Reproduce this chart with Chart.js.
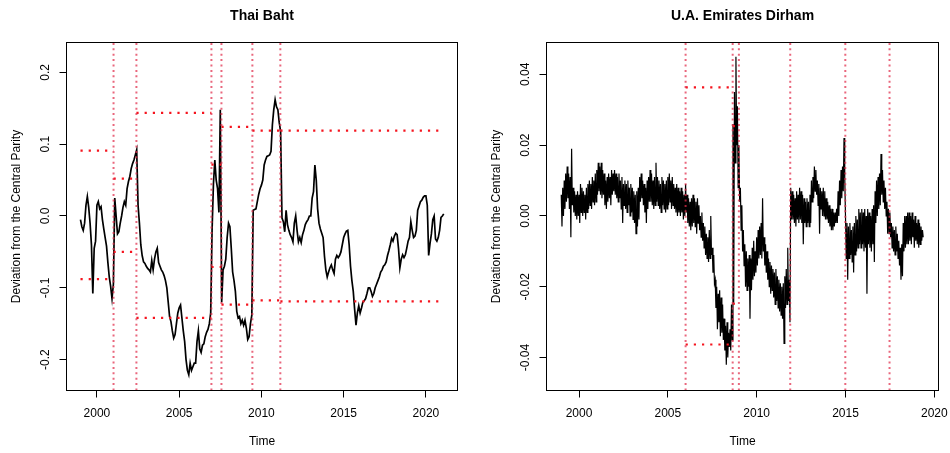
<!DOCTYPE html>
<html>
<head>
<meta charset="utf-8">
<script src="https://cdn.jsdelivr.net/npm/chart.js@4.4.1/dist/chart.umd.min.js"></script>
<style>
  html, body { margin: 0; padding: 0; background: #fff; }
  #wrap { display: flex; width: 950px; height: 453px; }
  .panel { width: 475px; height: 453px; }
  canvas { display: block; }
</style>
</head>
<body>
<div id="wrap">
  <div class="panel"><canvas id="thbChart" width="475" height="453"></canvas></div>
  <div class="panel"><canvas id="aedChart" width="475" height="453"></canvas></div>
</div>
<script>
/* ---- Data ---- */
const yearTicks = [2000, 2005, 2010, 2015, 2020];

// Thai Baht, monthly from Jan 1999
const thbStart = 1999;
const thbStep = 1 / 12;
const thbValues = [
  -0.005, -0.015, -0.020, -0.010, 0.015, 0.027, 0.012, -0.010, -0.040, -0.108, -0.045, -0.035,
  0.015, 0.020, 0.010, 0.013, -0.005, -0.018, -0.030, -0.042, -0.065, -0.085, -0.098, -0.115,
  -0.095, 0.025, 0.000, -0.025, -0.022, -0.010, 0.000, 0.012, 0.020, 0.015, 0.038, 0.048,
  0.055, 0.066, 0.073, 0.078, 0.085, 0.092, 0.015, -0.010, -0.040, -0.055, -0.064, -0.066,
  -0.070, -0.073, -0.075, -0.078, -0.062, -0.075, -0.060, -0.050, -0.045, -0.065, -0.070, -0.075,
  -0.078, -0.083, -0.090, -0.100, -0.120, -0.140, -0.147, -0.160, -0.170, -0.165, -0.150, -0.135,
  -0.128, -0.124, -0.142, -0.160, -0.175, -0.200, -0.215, -0.221, -0.205, -0.215, -0.210, -0.205,
  -0.205, -0.175, -0.160, -0.185, -0.190, -0.180, -0.178, -0.168, -0.162, -0.158, -0.150, -0.135,
  -0.020, 0.045, 0.078, 0.050, 0.038, 0.005, 0.148, -0.120, -0.075, -0.070, -0.060, -0.030,
  -0.010, -0.015, -0.045, -0.078, -0.090, -0.105, -0.133, -0.142, -0.140, -0.150, -0.145, -0.152,
  -0.145, -0.156, -0.172, -0.168, -0.150, -0.138, 0.008, 0.009, 0.010, 0.020, 0.030, 0.038,
  0.043, 0.050, 0.071, 0.078, 0.083, 0.084, 0.085, 0.090, 0.127, 0.148, 0.162, 0.152,
  0.148, 0.130, 0.118, -0.003, -0.008, -0.022, 0.008, -0.012, -0.020, -0.026, -0.030, -0.036,
  -0.010, 0.000, -0.020, -0.036, -0.030, -0.037, -0.026, -0.020, -0.012, -0.008, -0.005, 0.000,
  0.000, 0.025, 0.034, 0.071, 0.050, 0.010, -0.010, -0.018, -0.024, -0.030, -0.056, -0.075,
  -0.085, -0.078, -0.072, -0.068, -0.075, -0.080, -0.060, -0.055, -0.058, -0.055, -0.050, -0.040,
  -0.030, -0.025, -0.021, -0.020, -0.040, -0.070, -0.090, -0.105, -0.130, -0.152, -0.135, -0.125,
  -0.135, -0.128, -0.120, -0.118, -0.115, -0.108, -0.100, -0.100, -0.105, -0.112, -0.108, -0.100,
  -0.095, -0.090, -0.085, -0.078, -0.075, -0.070, -0.068, -0.064, -0.055, -0.048, -0.040, -0.031,
  -0.035, -0.028, -0.024, -0.026, -0.045, -0.072, -0.060, -0.054, -0.058, -0.054, -0.045, -0.035,
  -0.030, -0.008, -0.020, -0.030, -0.028, -0.020, 0.008, 0.014, 0.020, 0.022, 0.026, 0.028,
  0.028, 0.015, -0.055, -0.038, -0.025, -0.005, 0.000, -0.032, -0.035, -0.030, -0.020, -0.002,
  0.000, 0.003
];
const thbBreaks = [2001.01, 2002.40, 2006.96, 2007.57, 2009.45, 2011.15];
const thbBandStart = [1999.00, 2001.01, 2002.40, 2006.96, 2007.57, 2009.45, 2011.15];
const thbBandEnd   = [2001.01, 2002.40, 2006.96, 2007.57, 2009.45, 2011.15, 2021.05];
const thbBandUpper = [0.091, 0.052, 0.1435, 0.0715, 0.124, 0.119, 0.119];
const thbBandLower = [-0.088, -0.050, -0.142, -0.071, -0.1235, -0.1175, -0.119];
const thbYTicks  = [-0.2, -0.1, 0, 0.1, 0.2];
const thbYLabels = ["-0.2", "-0.1", "0.0", "0.1", "0.2"];

// U.A. Emirates Dirham, half-monthly from Jan 1999 (high / low of each month in turn)
const aedStart = 1999;
const aedStep = 1 / 24;
const aedValues = [
  0.006,-0.003, 0.008,0.000, 0.010,0.002, 0.012,0.004, 0.014,0.005, 0.012,0.002, 0.011,-0.006, 0.019,0.003, 0.008,0.001, 0.007,0.000, 0.006,-0.001, 0.007,0.000,
  0.006,-0.002, 0.009,0.001, 0.008,0.000, 0.007,0.001, 0.006,-0.001, 0.008,0.001, 0.009,0.002, 0.010,0.003, 0.009,0.002, 0.011,0.004, 0.010,0.003, 0.012,0.004,
  0.013,0.006, 0.015,0.007, 0.014,0.006, 0.015,0.005, 0.013,0.006, 0.012,0.003, 0.010,0.002, 0.011,0.004, 0.012,0.005, 0.011,0.003, 0.013,0.006, 0.012,0.007,
  0.013,0.006, 0.012,0.005, 0.011,0.004, 0.012,0.005, 0.010,0.002, 0.011,-0.002, 0.009,0.003, 0.010,0.002, 0.009,0.001, 0.010,0.003, 0.008,0.000, 0.009,0.001,
  0.008,-0.001, 0.007,-0.002, 0.006,-0.005, 0.007,-0.003, 0.008,-0.001, 0.011,0.004, 0.012,0.005, 0.010,0.003, 0.009,0.001, 0.008,-0.002, 0.010,0.002, 0.011,0.004,
  0.013,0.004, 0.012,0.003, 0.010,0.002, 0.011,0.003, 0.015,0.004, 0.011,0.003, 0.010,0.002, 0.009,0.001, 0.011,0.003, 0.010,0.002, 0.009,0.001, 0.010,0.002,
  0.011,0.003, 0.012,0.004, 0.010,0.002, 0.011,0.003, 0.009,0.002, 0.008,0.001, 0.009,0.000, 0.008,0.001, 0.007,0.000, 0.008,0.001, 0.007,-0.001, 0.006,0.000,
  0.009,0.001, 0.006,-0.002, 0.005,-0.003, 0.004,-0.004, 0.005,-0.003, 0.006,-0.002, 0.005,-0.003, 0.004,-0.005, 0.005,-0.002, 0.003,-0.004, 0.000,-0.006, 0.001,-0.007,
  -0.002,-0.009, -0.003,-0.011, -0.005,-0.012, -0.006,-0.013, -0.004,-0.012, 0.000,-0.011, -0.009,-0.016, -0.011,-0.019, -0.018,-0.026, -0.020,-0.032, -0.022,-0.030, -0.021,-0.034,
  -0.023,-0.033, -0.025,-0.035, -0.029,-0.038, -0.031,-0.042, -0.030,-0.040, -0.033,-0.037, -0.032,-0.038, -0.025,-0.035, 0.026,-0.025, 0.035,0.015, 0.045,0.020, 0.031,0.008,
  0.020,0.004, 0.008,-0.004, 0.003,-0.010, -0.004,-0.014, -0.008,-0.020, -0.010,-0.021, -0.012,-0.020, -0.011,-0.029, -0.012,-0.021, -0.009,-0.018, -0.007,-0.017, -0.010,-0.016,
  -0.006,-0.014, -0.004,-0.012, -0.003,-0.011, -0.002,-0.012, 0.005,-0.010, -0.006,-0.014, -0.008,-0.016, -0.010,-0.018, -0.012,-0.020, -0.013,-0.022, -0.014,-0.021, -0.015,-0.023,
  -0.016,-0.025, -0.015,-0.024, -0.017,-0.026, -0.018,-0.027, -0.019,-0.028, -0.020,-0.029, -0.019,-0.036, -0.017,-0.026, -0.015,-0.025, -0.009,-0.024, -0.018,-0.030, 0.008,-0.001,
  0.007,-0.001, 0.006,-0.002, 0.005,-0.003, 0.007,-0.001, 0.006,-0.002, 0.008,-0.001, 0.007,-0.002, 0.006,-0.008, 0.005,-0.002, 0.004,-0.003, 0.005,-0.002, 0.004,-0.003,
  0.006,-0.002, 0.010,0.004, 0.011,0.005, 0.014,0.007, 0.013,0.006, 0.010,0.003, 0.009,-0.005, 0.008,0.002, 0.007,0.000, 0.008,0.000, 0.007,-0.001, 0.005,-0.001,
  0.004,-0.002, 0.003,-0.003, 0.002,-0.004, 0.002,-0.004, 0.001,-0.003, 0.001,-0.002, 0.002,-0.002, 0.007,0.000, 0.010,0.003, 0.013,0.005, 0.014,0.007, 0.022,0.011,
  0.000,-0.012, -0.002,-0.018, -0.003,-0.012, -0.002,-0.011, -0.004,-0.013, -0.003,-0.016, -0.002,-0.011, 0.000,-0.010, -0.001,-0.009, 0.002,-0.008, 0.001,-0.009, 0.002,-0.008,
  0.001,-0.010, 0.002,-0.009, 0.000,-0.022, 0.002,-0.008, 0.001,-0.009, 0.000,-0.010, 0.002,-0.008, 0.003,-0.013, 0.007,-0.002, 0.010,0.000, 0.011,0.002, 0.012,0.003,
  0.0175,0.006, 0.013,0.004, 0.010,0.002, 0.008,0.000, 0.004,-0.005, 0.002,-0.005, 0.001,-0.006, -0.002,-0.009, -0.003,-0.010, -0.004,-0.011, -0.003,-0.010, -0.005,-0.012,
  -0.007,-0.014, -0.009,-0.018, -0.008,-0.017, -0.002,-0.010, 0.000,-0.009, 0.000,-0.008, 0.001,-0.008, 0.001,-0.007, 0.000,-0.008, 0.001,-0.006, -0.001,-0.009, 0.000,-0.007,
  -0.002,-0.008, -0.001,-0.009, -0.002,-0.008, -0.003,-0.007, -0.004,-0.006
];
const aedBreaks = [2006.00, 2008.65, 2009.00, 2011.89, 2014.99, 2017.48];
const aedBandStart = [2006.00, 2008.65];
const aedBandEnd   = [2008.65, 2009.00];
const aedBandUpper = [0.0363, 0.0254];
const aedBandLower = [-0.0363, -0.0248];
const aedYTicks  = [-0.04, -0.02, 0, 0.02, 0.04];
const aedYLabels = ["-0.04", "-0.02", "0.00", "0.02", "0.04"];

/* ---- R-style axes, box and titles ---- */
const FONT = '"Liberation Sans", Arial, sans-serif';
const rAxesPlugin = {
  id: "rAxes",
  afterDraw(chart){
    const o = chart.options.plugins.rAxes;
    const { ctx, chartArea: a } = chart;
    const x = chart.scales.x, y = chart.scales.y;
    ctx.save();
    ctx.strokeStyle = "#000";
    ctx.lineWidth = 1;
    ctx.strokeRect(a.left, a.top, a.right - a.left, a.bottom - a.top);

    ctx.beginPath();
    yearTicks.forEach(v => {
      const px = Math.floor(x.getPixelForValue(v)) + 0.5;
      ctx.moveTo(px, a.bottom); ctx.lineTo(px, a.bottom + 7);
    });
    o.yTicks.forEach(v => {
      const py = Math.floor(y.getPixelForValue(v)) + 0.5;
      ctx.moveTo(a.left, py); ctx.lineTo(a.left - 7, py);
    });
    ctx.stroke();

    ctx.fillStyle = "#000";
    ctx.font = "12px " + FONT;
    ctx.textAlign = "center";
    ctx.textBaseline = "alphabetic";
    yearTicks.forEach(v => ctx.fillText(String(v), x.getPixelForValue(v), a.bottom + 26.5));
    const cx = (a.left + a.right) / 2;
    const cy = (a.top + a.bottom) / 2;
    ctx.fillText("Time", cx, a.bottom + 54.5);

    o.yTicks.forEach((v, i) => {
      ctx.save();
      ctx.translate(a.left - 17.2, y.getPixelForValue(v));
      ctx.rotate(-Math.PI / 2);
      ctx.fillText(o.yLabels[i], 0, 0);
      ctx.restore();
    });

    ctx.save();
    ctx.translate(a.left - 46.2, cy);
    ctx.rotate(-Math.PI / 2);
    ctx.fillText("Deviation from the Central Parity", 0, 0);
    ctx.restore();

    ctx.font = "bold 14px " + FONT;
    ctx.fillText(o.title, cx, 20);
    ctx.restore();
  }
};

const V_COLOR = "rgba(225, 45, 75, 0.72)";
const H_COLOR = "rgb(245, 20, 30)";

function buildDatasets(times, values, lineW, breaks, bStart, bEnd, bUp, bLo, yMin, yMax){
  const sets = [{
    data: values.map((v, i) => ({ x: times[i], y: v })),
    borderColor: "#000",
    borderWidth: lineW,
    pointRadius: 0,
    order: 3
  }];
  bStart.forEach((s, i) => {
    [bUp[i], bLo[i]].forEach(level => {
      sets.push({
        data: [{ x: s, y: level }, { x: bEnd[i], y: level }],
        borderColor: H_COLOR,
        borderWidth: 2.2,
        borderDash: [2.2, 6],
        borderCapStyle: "butt",
        pointRadius: 0,
        order: 2
      });
    });
  });
  breaks.forEach(b => {
    sets.push({
      data: [{ x: b, y: yMin }, { x: b, y: yMax }],
      borderColor: V_COLOR,
      borderWidth: 2,
      borderDash: [2, 3.4],
      borderCapStyle: "butt",
      pointRadius: 0,
      order: 1
    });
  });
  return sets;
}

function makeChart(canvas, cfg){
  return new Chart(canvas, {
    type: "line",
    data: { datasets: cfg.datasets },
    options: {
      responsive: false,
      animation: false,
      events: [],
      layout: { padding: cfg.padding },
      plugins: {
        legend: { display: false },
        tooltip: { enabled: false },
        rAxes: { title: cfg.title, yTicks: cfg.yTicks, yLabels: cfg.yLabels }
      },
      elements: { line: { tension: 0 } },
      scales: {
        x: { type: "linear", min: cfg.xMin, max: cfg.xMax, display: false },
        y: { type: "linear", min: cfg.yMin, max: cfg.yMax, display: false }
      }
    },
    plugins: [rAxesPlugin]
  });
}

document.addEventListener("DOMContentLoaded", () => {
  const thbTime = thbValues.map((_, i) => thbStart + i * thbStep);
  const aedTime = aedValues.map((_, i) => aedStart + i * aedStep);

  const thbY = [-0.2430, 0.2416];
  const aedY = [-0.0493, 0.0490];

  makeChart(document.getElementById("thbChart"), {
    title: "Thai Baht",
    datasets: buildDatasets(thbTime, thbValues, 1.7, thbBreaks, thbBandStart, thbBandEnd,
      thbBandUpper, thbBandLower, thbY[0], thbY[1]),
    padding: { left: 66.5, right: 17.5, top: 42.5, bottom: 62.5 },
    xMin: 1998.15, xMax: 2021.92,
    yMin: thbY[0], yMax: thbY[1],
    yTicks: thbYTicks, yLabels: thbYLabels
  });

  makeChart(document.getElementById("aedChart"), {
    title: "U.A. Emirates Dirham",
    datasets: buildDatasets(aedTime, aedValues, 1.2, aedBreaks, aedBandStart, aedBandEnd,
      aedBandUpper, aedBandLower, aedY[0], aedY[1]),
    padding: { left: 71.5, right: 11.5, top: 42.5, bottom: 62.5 },
    xMin: 1998.17, xMax: 2020.236,
    yMin: aedY[0], yMax: aedY[1],
    yTicks: aedYTicks, yLabels: aedYLabels
  });
});
</script>
</body>
</html>
